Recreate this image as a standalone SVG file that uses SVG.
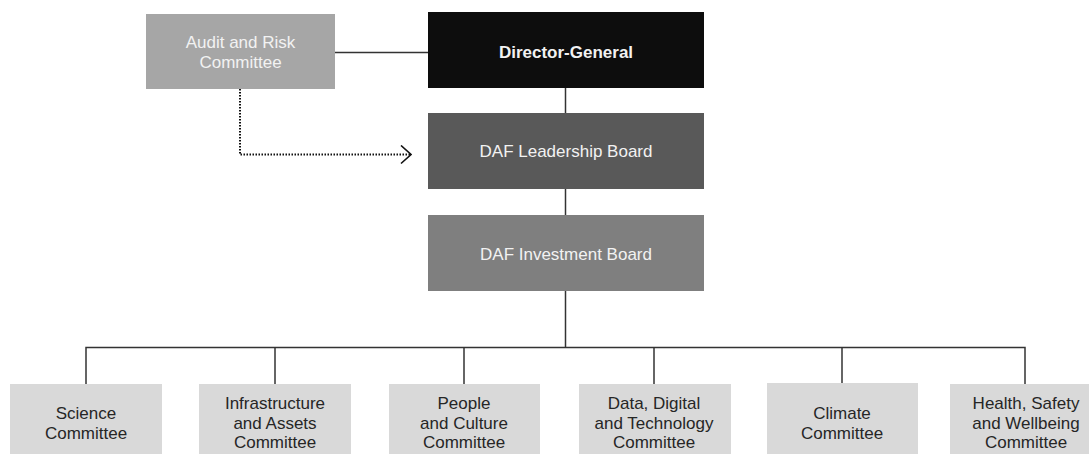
<svg xmlns="http://www.w3.org/2000/svg" width="1089" height="454" viewBox="0 0 1089 454">
  <style>
    text { font-family: "Liberation Sans", Arial, sans-serif; font-size: 17px; text-anchor: middle; }
    .light { fill: #f2f2f2; }
    .dark { fill: #262626; }
    .bold { font-weight: bold; }
    .link { fill: none; stroke: #333333; stroke-width: 1.5; }
    .dotted { fill: none; stroke: #111111; stroke-width: 2; stroke-dasharray: 1.5 1.5; }
    .committee { fill: #d9d9d9; }
  </style>
  <defs>
    <marker id="open-arrow" viewBox="0 0 12 20" refX="11" refY="10" markerWidth="12" markerHeight="20" markerUnits="userSpaceOnUse" orient="auto">
      <path d="M1,1 L11,10 L1,19" fill="none" stroke="#111111" stroke-width="1.6"/>
    </marker>
  </defs>

  <!-- connectors -->
  <g id="connectors">
    <line class="link" x1="335" y1="52.5" x2="428" y2="52.5" stroke="#111111"/>
    <line class="link" x1="565.5" y1="88" x2="565.5" y2="113"/>
    <line class="link" x1="565.5" y1="189" x2="565.5" y2="215"/>
    <line class="link" x1="565.5" y1="291" x2="565.5" y2="347.5"/>
    <polyline class="link" points="86,384 86,347.5 1025,347.5 1025,384"/>
    <line class="link" x1="275" y1="347.5" x2="275" y2="384"/>
    <line class="link" x1="464" y1="347.5" x2="464" y2="384"/>
    <line class="link" x1="654" y1="347.5" x2="654" y2="384"/>
    <line class="link" x1="842" y1="347.5" x2="842" y2="384"/>
    <polyline class="dotted" points="240,89 240,154.5 411,154.5" marker-end="url(#open-arrow)"/>
  </g>

  <!-- top-level nodes -->
  <g id="audit-risk">
    <rect x="146" y="14" width="189" height="75" fill="#a6a6a6"/>
    <text class="light" x="240.5" y="48">Audit and Risk</text>
    <text class="light" x="240.5" y="68">Committee</text>
  </g>
  <g id="director-general">
    <rect x="428" y="12" width="276" height="76" fill="#0d0d0d"/>
    <text class="light bold" x="566" y="58">Director-General</text>
  </g>
  <g id="leadership-board">
    <rect x="428" y="113" width="276" height="76" fill="#595959"/>
    <text class="light" x="566" y="157">DAF Leadership Board</text>
  </g>
  <g id="investment-board">
    <rect x="428" y="215" width="276" height="76" fill="#7f7f7f"/>
    <text class="light" x="566" y="260">DAF Investment Board</text>
  </g>

  <!-- committees -->
  <g id="science">
    <rect class="committee" x="10" y="384" width="152" height="78"/>
    <text class="dark" x="86" y="418.5">Science</text>
    <text class="dark" x="86" y="438.5">Committee</text>
  </g>
  <g id="infrastructure">
    <rect class="committee" x="199" y="384" width="152" height="78"/>
    <text class="dark" x="275" y="409">Infrastructure</text>
    <text class="dark" x="275" y="428.5">and Assets</text>
    <text class="dark" x="275" y="448">Committee</text>
  </g>
  <g id="people-culture">
    <rect class="committee" x="389" y="384" width="151" height="78"/>
    <text class="dark" x="464" y="409">People</text>
    <text class="dark" x="464" y="428.5">and Culture</text>
    <text class="dark" x="464" y="448">Committee</text>
  </g>
  <g id="data-digital">
    <rect class="committee" x="579" y="384" width="152" height="78"/>
    <text class="dark" x="654" y="409">Data, Digital</text>
    <text class="dark" x="654" y="428.5">and Technology</text>
    <text class="dark" x="654" y="448">Committee</text>
  </g>
  <g id="climate">
    <rect class="committee" x="767" y="383" width="151" height="79"/>
    <text class="dark" x="842" y="418.5">Climate</text>
    <text class="dark" x="842" y="438.5">Committee</text>
  </g>
  <g id="health-safety">
    <rect class="committee" x="950" y="384" width="152" height="78"/>
    <text class="dark" x="1026" y="409">Health, Safety</text>
    <text class="dark" x="1026" y="428.5">and Wellbeing</text>
    <text class="dark" x="1026" y="448">Committee</text>
  </g>
</svg>
